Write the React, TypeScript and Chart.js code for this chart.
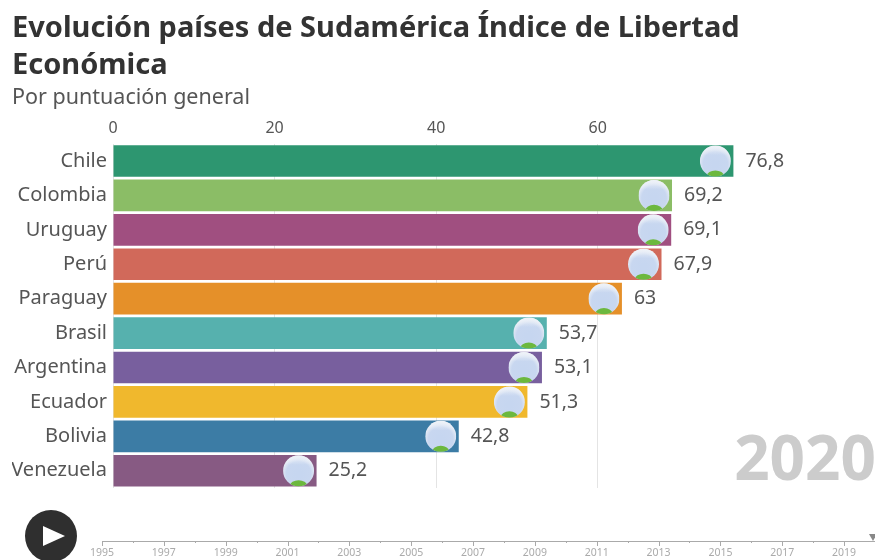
import React, { useEffect, useRef } from "react";
import { Chart, registerables } from "chart.js";

Chart.register(...registerables);

const countries = ["Chile", "Colombia", "Uruguay", "Perú", "Paraguay", "Brasil", "Argentina", "Ecuador", "Bolivia", "Venezuela"];
const scores = [76.8, 69.2, 69.1, 67.9, 63, 53.7, 53.1, 51.3, 42.8, 25.2];
const barColors = ["#2D9670", "#8BBD66", "#A04F80", "#D1695A", "#E59029", "#56B1AE", "#785F9E", "#F0B82D", "#3C7CA5", "#875A83"];
const axisTicks = [0, 20, 40, 60];
const timelineYears = [1995, 1997, 1999, 2001, 2003, 2005, 2007, 2009, 2011, 2013, 2015, 2017, 2019];
const currentYear = "2020";
const titleLines = ["Evolución países de Sudamérica Índice de Libertad", "Económica"];
const subtitleText = "Por puntuación general";

const FONT = "'Noto Sans', sans-serif";

const decorations = {
  id: "decorations",
  afterDatasetsDraw(chart: any) {
    const { ctx } = chart;
    const meta = chart.getDatasetMeta(0);
    ctx.save();
    meta.data.forEach((bar: any, i: number) => {
      const cx = bar.x - 18;
      const cy = bar.y;
      const r = 15.5;
      ctx.save();
      ctx.beginPath();
      ctx.arc(cx, cy, r, 0, Math.PI * 2);
      ctx.clip();
      const g = ctx.createRadialGradient(cx, cy + 3, 3, cx, cy + 3, r + 3);
      g.addColorStop(0, "#c6d6f0");
      g.addColorStop(0.6, "#c8d7f0");
      g.addColorStop(1, "#f1f4f8");
      ctx.fillStyle = g;
      ctx.fillRect(cx - r, cy - r, 2 * r, 2 * r);
      const cloud = ctx.createLinearGradient(0, cy - r, 0, cy - 6);
      cloud.addColorStop(0, "#eef2f8");
      cloud.addColorStop(1, "rgba(238,242,248,0)");
      ctx.fillStyle = cloud;
      ctx.fillRect(cx - r, cy - r, 2 * r, r);
      ctx.fillStyle = "#6cb83e";
      ctx.beginPath();
      ctx.ellipse(cx, cy + r - 0.5, r * 0.55, r * 0.36, 0, 0, Math.PI * 2);
      ctx.fill();
      ctx.restore();

      ctx.fillStyle = "#555555";
      ctx.font = `19.5px ${FONT}`;
      ctx.textAlign = "left";
      ctx.textBaseline = "middle";
      ctx.fillText(String(scores[i]).replace(".", ","), bar.x + 12, bar.y);
    });
    ctx.fillStyle = "#cccccc";
    ctx.font = `bold 62px ${FONT}`;
    ctx.textAlign = "right";
    ctx.textBaseline = "alphabetic";
    ctx.fillText(currentYear, 876, 480);
    ctx.restore();
  },
};

const timelineDecor = {
  id: "timelineDecor",
  afterDraw(chart: any) {
    const { ctx } = chart;
    const x = chart.scales.x;
    const lineY = x.top;
    ctx.save();
    ctx.fillStyle = "#2f2f2f";
    ctx.beginPath();
    ctx.arc(51, 36, 26, 0, Math.PI * 2);
    ctx.fill();
    ctx.fillStyle = "#ffffff";
    ctx.beginPath();
    ctx.moveTo(43, 26);
    ctx.lineTo(65, 36);
    ctx.lineTo(43, 46);
    ctx.closePath();
    ctx.fill();
    const end = x.getPixelForValue(2020) - 2;
    ctx.fillStyle = "#888888";
    ctx.beginPath();
    ctx.moveTo(end - 4, lineY - 7);
    ctx.lineTo(end + 4, lineY - 7);
    ctx.lineTo(end, lineY);
    ctx.closePath();
    ctx.fill();
    ctx.strokeStyle = "#aaaaaa";
    ctx.lineWidth = 1;
    for (const y of timelineYears) {
      const px = Math.round(x.getPixelForValue(y)) + 0.5;
      ctx.beginPath();
      ctx.moveTo(px, lineY);
      ctx.lineTo(px, lineY + 5);
      ctx.stroke();
      const next = Math.round(x.getPixelForValue(y + 1)) + 0.5;
      ctx.beginPath();
      ctx.moveTo(next, lineY);
      ctx.lineTo(next, lineY + 2);
      ctx.stroke();
    }
    ctx.restore();
  },
};

export default function App() {
  const mainRef = useRef<HTMLCanvasElement>(null);
  const lineRef = useRef<HTMLCanvasElement>(null);

  useEffect(() => {
    document.body.style.margin = "0";
    document.body.style.background = "#ffffff";
    const main = new Chart(mainRef.current!, {
      type: "bar",
      data: {
        labels: countries,
        datasets: [{ data: scores, backgroundColor: barColors, barPercentage: 0.92, categoryPercentage: 1 }],
      },
      plugins: [decorations],
      options: {
        indexAxis: "y",
        responsive: false,
        animation: false,
        layout: { padding: { left: 12, right: 18, top: 10, bottom: 0 } },
        plugins: {
          legend: { display: false },
          tooltip: { enabled: false },
          title: {
            display: true,
            align: "start",
            text: titleLines,
            color: "#333333",
            font: { family: FONT, size: 29, weight: "bold", lineHeight: 1.276 },
            padding: { top: 0, bottom: 0 },
          },
          subtitle: {
            display: true,
            align: "start",
            text: subtitleText,
            color: "#555555",
            font: { family: FONT, size: 21.5, lineHeight: 1.2 },
            padding: { top: 1, bottom: 4 },
          },
        },
        scales: {
          x: {
            position: "top",
            min: 0,
            max: 92.1,
            afterBuildTicks(scale: any) {
              scale.ticks = axisTicks.map((value) => ({ value }));
            },
            afterFit(scale: any) {
              scale.height = 29;
            },
            ticks: { color: "#555555", font: { family: FONT, size: 16 }, maxRotation: 0, padding: 6 },
            grid: { color: "#e4e4e4", drawTicks: false },
            border: { display: false },
          },
          y: {
            afterFit(scale: any) {
              scale.width = 101;
            },
            ticks: { color: "#555555", font: { family: FONT, size: 20 }, padding: 6 },
            grid: { display: false, drawTicks: false, tickLength: 0 },
            border: { display: false },
          },
        },
      },
    } as any);

    const line = new Chart(lineRef.current!, {
      type: "scatter",
      data: { datasets: [{ data: [] }] },
      plugins: [timelineDecor],
      options: {
        responsive: false,
        animation: false,
        layout: { padding: { left: 102, right: 0, top: 0, bottom: 0 } },
        plugins: { legend: { display: false }, tooltip: { enabled: false } },
        scales: {
          x: {
            type: "linear",
            display: true,
            min: 1995,
            max: 2020,
            position: "bottom",
            afterBuildTicks(scale: any) {
              scale.ticks = timelineYears.map((value) => ({ value }));
            },
            afterFit(scale: any) {
              scale.height = 19;
            },
            ticks: {
              color: "#aaaaaa",
              font: { family: FONT, size: 10.5 },
              maxRotation: 0,
              padding: 6,
              callback: (v: number) => String(v),
            },
            grid: { display: false, drawTicks: false },
            border: { display: true, color: "#aaaaaa" },
          },
          y: { display: false },
        },
      },
    } as any);

    return () => {
      main.destroy();
      line.destroy();
    };
  }, []);

  return (
    <div style={{ position: "relative", width: 875, height: 560, overflow: "hidden", background: "#fff" }}>
      <canvas ref={mainRef} width={875} height={506} style={{ position: "absolute", left: 0, top: 0 }} />
      <canvas ref={lineRef} width={875} height={60} style={{ position: "absolute", left: 0, top: 500 }} />
    </div>
  );
}
